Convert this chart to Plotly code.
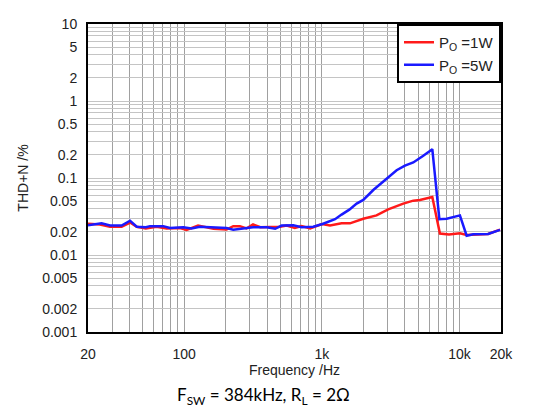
import plotly.graph_objects as go

# ---- data ----
freq_1w = [20, 24.4, 28.9, 35.1, 40.4, 45.2, 52.6, 63, 74.6, 93, 104, 126, 163, 203, 227, 254, 283,
           316, 357, 418, 496, 555, 636, 712, 822, 1000, 1146, 1390, 1600, 1998, 2494, 3030, 3900,
           4612, 5150, 6340, 7200, 8380, 10060, 11260, 14060, 16120, 19680]
thd_1w = [0.0255, 0.0249, 0.0233, 0.0233, 0.0264, 0.0233, 0.0221, 0.0233, 0.0221, 0.0224, 0.0212,
          0.0241, 0.0219, 0.0214, 0.0237, 0.0237, 0.0221, 0.0249, 0.0229, 0.0229, 0.0233, 0.0241,
          0.0224, 0.0237, 0.0221, 0.0253, 0.0241, 0.0258, 0.0258, 0.0296, 0.0327, 0.0392, 0.0465,
          0.0508, 0.0519, 0.0566, 0.0190, 0.0184, 0.0192, 0.0182, 0.0188, 0.0188, 0.0214]

freq_5w = [20, 25.1, 28.9, 35.1, 40.4, 45.2, 52.6, 56.4, 70.4, 78.8, 98.4, 113, 130, 163, 203, 227,
           268, 316, 398, 458, 510, 620, 712, 866, 1010, 1146, 1246, 1390, 1582, 1789, 1998, 2362,
           3030, 3490, 4010, 4612, 5452, 6340, 7134, 8068, 10060, 11260, 12570, 14060, 16120, 19680]
thd_5w = [0.0243, 0.0258, 0.0241, 0.0241, 0.0279, 0.0233, 0.0229, 0.0237, 0.0237, 0.0224, 0.0229,
          0.0221, 0.0233, 0.0231, 0.0224, 0.0213, 0.0221, 0.0229, 0.0229, 0.0219, 0.0241, 0.0243,
          0.0229, 0.0233, 0.0253, 0.0279, 0.0292, 0.0335, 0.0388, 0.0465, 0.0519, 0.0698, 0.102,
          0.126, 0.145, 0.159, 0.195, 0.237, 0.0292, 0.0296, 0.0327, 0.0178, 0.0186, 0.0188,
          0.0188, 0.0212]

series_names = ["P<sub>O</sub> =1W", "P<sub>O</sub> =5W"]

x_labels = {20: "20", 100: "100", 1000: "1k", 10000: "10k", 20000: "20k"}
y_labels = {10: "10", 5: "5", 2: "2", 1: "1", 0.5: "0.5", 0.2: "0.2", 0.1: "0.1", 0.05: "0.05",
            0.02: "0.02", 0.01: "0.01", 0.005: "0.005", 0.002: "0.002", 0.001: "0.001"}

x_grid = [m * 10 ** e for e in (1, 2, 3) for m in range(1, 10) if 20 <= m * 10 ** e] + [10000, 20000]
y_grid = [round(m * 10.0 ** e, 6) for e in (-3, -2, -1, 0) for m in range(1, 10)] + [10]

x_ticktext = [x_labels.get(v, "") for v in x_grid]
y_ticktext = [y_labels.get(v, "") for v in y_grid]

font_family = "Liberation Sans, Arial, sans-serif"

fig = go.Figure()
fig.add_trace(go.Scatter(x=freq_1w, y=thd_1w, mode="lines", name=series_names[0],
                         line=dict(color="#ff1a1a", width=2.5)))
fig.add_trace(go.Scatter(x=freq_5w, y=thd_5w, mode="lines", name=series_names[1],
                         line=dict(color="#1a1aff", width=2.5)))

# page body has an 8px default margin, so the figure is offset by 8px
fig.update_layout(
    width=543, height=404,
    margin=dict(l=80, r=50, t=16, b=80, autoexpand=False),
    paper_bgcolor="white", plot_bgcolor="white",
    font=dict(family=font_family, size=14, color="#222"),
    showlegend=True,
    legend=dict(x=1, y=1, xanchor="right", yanchor="top",
                bordercolor="black", borderwidth=2, bgcolor="white",
                font=dict(size=15, color="#222"), tracegroupgap=0),
    xaxis=dict(type="log", range=[1.30103, 4.30103], automargin=False,
               tickmode="array", tickvals=x_grid, ticktext=x_ticktext,
               showgrid=True, gridcolor="#a0a0a0", gridwidth=1,
               showline=True, linecolor="black", linewidth=2, mirror=True,
               ticks="", ticklabelstandoff=8,
               title=dict(text="Frequency /Hz", font=dict(size=14), standoff=4)),
    yaxis=dict(type="log", range=[-3, 1], automargin=False,
               tickmode="array", tickvals=y_grid, ticktext=y_ticktext,
               showgrid=True, gridcolor="#c4c4c4", gridwidth=1,
               showline=True, linecolor="black", linewidth=2, mirror=True,
               ticks="", ticklabelstandoff=6,
               title=dict(text="THD+N /%", font=dict(size=14), standoff=10)),
)

fig.add_annotation(text="F<sub>SW</sub> = 384kHz, R<sub>L</sub> = 2Ω",
                   xref="paper", yref="paper", x=0.424, y=-0.208,
                   xanchor="center", yanchor="middle", showarrow=False,
                   font=dict(family="Lato, Open Sans, sans-serif", size=17, color="black"))

fig.write_html("out.html")
